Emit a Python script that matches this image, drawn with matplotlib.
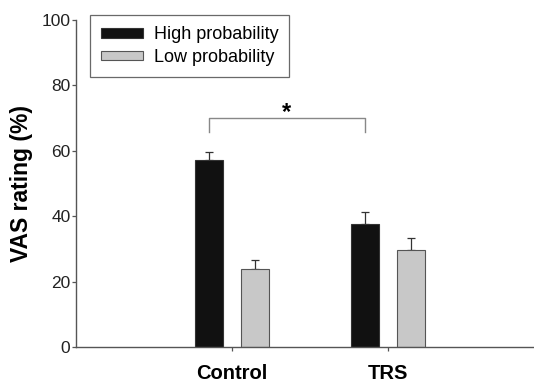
import numpy as np
import matplotlib.pyplot as plt

plt.rcParams['font.family'] = ['Liberation Sans', 'DejaVu Sans']

groups = ['Control', 'TRS']
high_prob = [57.2, 37.5]
low_prob = [23.9, 29.7]
high_err = [2.6, 3.7]
low_err = [2.7, 3.6]

fig = plt.figure(figsize=(5.34, 3.81), dpi=100)
ax = fig.add_axes([0.1423, 0.0892, 0.876, 0.858])

X = np.arange(1, len(groups) + 1)
w = 0.18
off = 0.148
axcol = '#555555'

ax.bar(X - off, high_prob, w, color='#111111', edgecolor='#333333', linewidth=0.8,
       label='High probability', zorder=2)
ax.bar(X + off, low_prob, w, color='#c8c8c8', edgecolor='#555555', linewidth=0.8,
       label='Low probability', zorder=2)
ax.errorbar(X - off, high_prob, yerr=[[0, 0], high_err], fmt='none', ecolor='#333333',
            elinewidth=0.9, capsize=2.8, capthick=0.9, zorder=1)
ax.errorbar(X + off, low_prob, yerr=[[0, 0], low_err], fmt='none', ecolor='#333333',
            elinewidth=0.9, capsize=2.8, capthick=0.9, zorder=1)

# significance bracket between high-probability bars
bx = [X[0] - off, X[0] - off, X[1] - off, X[1] - off]
ax.plot(bx, [65.8, 70.1, 70.1, 65.8], color='#888888', lw=1.0)
ax.text((X[0] + X[1]) / 2 - off, 68.3, '*', ha='center', va='bottom', fontsize=17,
        fontweight='bold')

ax.set_xlim(0, 3)
ax.set_ylim(0, 100)
ax.set_yticks([0, 20, 40, 60, 80, 100])
ax.set_xticks(X)
ax.set_xticklabels(groups, fontsize=14.5, fontweight='bold')
ax.tick_params(axis='y', labelsize=12.5, length=3, width=0.9, color=axcol, pad=1,
               labelcolor='#222222')
ax.tick_params(axis='x', length=3, width=0.9, color=axcol, pad=9)
ax.set_ylabel('VAS rating (%)', fontsize=16.5, fontweight='bold', labelpad=6)

for s in ['top', 'right']:
    ax.spines[s].set_visible(False)
for s in ['left', 'bottom']:
    ax.spines[s].set_color(axcol)
    ax.spines[s].set_linewidth(1.0)

leg = ax.legend(loc='upper left', bbox_to_anchor=(0.03, 1.015), borderaxespad=0,
                fontsize=13, frameon=True, fancybox=False, edgecolor='#444444',
                handlelength=2.3, handleheight=0.45, labelspacing=0.3,
                handletextpad=0.6, borderpad=0.62)
leg.get_frame().set_linewidth(0.9)

plt.savefig('out.png', dpi=100)
